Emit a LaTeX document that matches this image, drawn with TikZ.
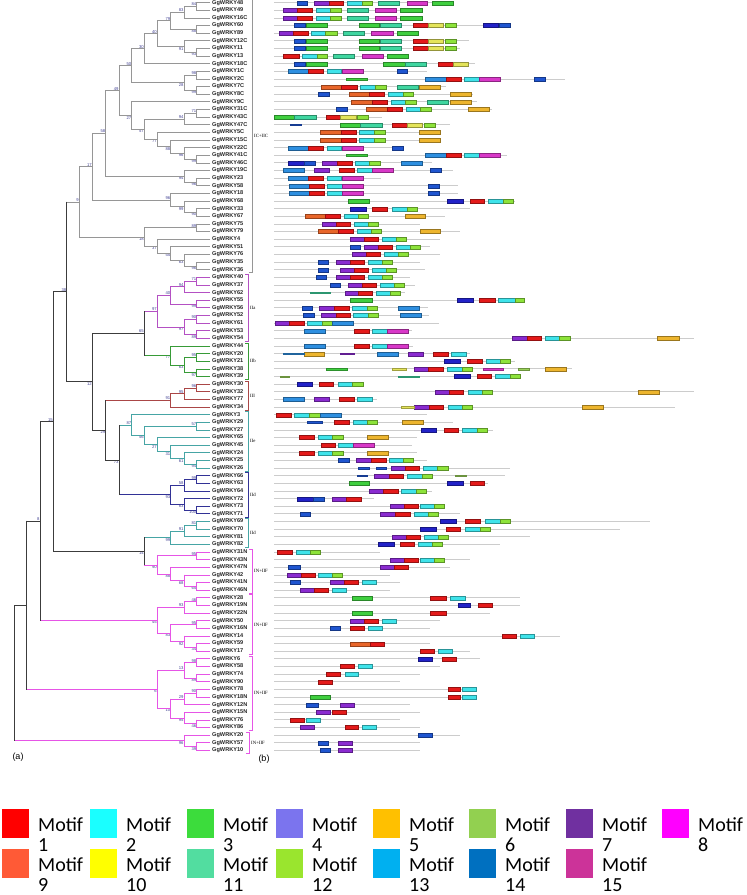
\documentclass[tikz,border=0pt]{standalone}
\usepackage{fontspec}
\setmainfont{Liberation Sans}
\newfontfamily\legfont{Carlito}
\newfontfamily\serfont{Liberation Serif}
\usetikzlibrary{calc}
% tree colours
\definecolor{gr}{RGB}{150,150,150}
\definecolor{bk}{RGB}{60,60,60}
\definecolor{pu}{RGB}{180,80,195}
\definecolor{gn}{RGB}{55,155,55}
\definecolor{brn}{RGB}{170,70,70}
\definecolor{tl}{RGB}{70,165,165}
\definecolor{nv}{RGB}{50,50,150}
\definecolor{pk}{RGB}{230,85,230}
\definecolor{bsc}{RGB}{70,70,150}
% motif box colours
\definecolor{q1}{HTML}{E41A1A}
\definecolor{q2}{HTML}{3FE3EA}
\definecolor{q3}{HTML}{3FCF3F}
\definecolor{q4}{HTML}{2222C8}
\definecolor{q5}{HTML}{EDB52E}
\definecolor{q6}{HTML}{9AD25A}
\definecolor{q7}{HTML}{8A2BD0}
\definecolor{q9}{HTML}{E8662A}
\definecolor{q10}{HTML}{E4E45A}
\definecolor{q11}{HTML}{3FD6A0}
\definecolor{q12}{HTML}{8DE33A}
\definecolor{q13}{HTML}{2E8FE0}
\definecolor{q14}{HTML}{1F55D0}
\definecolor{q15}{HTML}{D838C8}
% legend colours
\definecolor{lg1}{HTML}{FF0000}
\definecolor{lg2}{HTML}{1AFFFF}
\definecolor{lg3}{HTML}{3CDC3C}
\definecolor{lg4}{HTML}{7B74EE}
\definecolor{lg5}{HTML}{FFC000}
\definecolor{lg6}{HTML}{92D050}
\definecolor{lg7}{HTML}{7030A0}
\definecolor{lg8}{HTML}{FF00FF}
\definecolor{lg9}{HTML}{FF5A36}
\definecolor{lg10}{HTML}{FFFF00}
\definecolor{lg11}{HTML}{52DDA0}
\definecolor{lg12}{HTML}{9AE52E}
\definecolor{lg13}{HTML}{00B0F0}
\definecolor{lg14}{HTML}{0070C0}
\definecolor{lg15}{HTML}{CC3399}

\newcommand\lf[3]{%
  \coordinate (L#1) at (210,{2.7+(#1-1)*7.63});
  \node[lab] (T#1) at (212,{2.7+(#1-1)*7.63}) {#2};
  \expandafter\xdef\csname col@L#1\endcsname{#3}}
\newcommand\cl[7]{%
  \path (#3) -- (#4) coordinate[pos=.5] (#1m);
  \coordinate (#1) at (#2,0 |- #1m);
  \expandafter\xdef\csname col@#1\endcsname{#5}%
  \edef\cA{\csname col@#3\endcsname}%
  \edef\cB{\csname col@#4\endcsname}%
  \draw[brl,draw=\cA] (#1 |- #3) -- (#3);
  \draw[brl,draw=\cB] (#1 |- #4) -- (#4);
  \draw[brl,draw=#5] (#1 |- #3) -- (#1 |- #4);
  \node[bs#7] at (#1) {#6};}
\newcommand\brk[5]{%
  \draw[#4,line width=.7pt] ({#3-3},{2.7+(#1-1)*7.63-3}) -- (#3,{2.7+(#1-1)*7.63-3})
     -- (#3,{2.7+(#2-1)*7.63+3}) -- ({#3-3},{2.7+(#2-1)*7.63+3});
  \node[grp] at ({#3+2},{2.7+((#1+#2)/2-1)*7.63}) {#5};}
\newcommand\mrow[3]{%
  \draw[mline] (274,{2.7+(#1-1)*7.63}) -- (#2,{2.7+(#1-1)*7.63});
  \foreach \xa/\xb/\cc in {#3}{%
    \filldraw[fill=\cc,draw=\cc!65!black,line width=.25pt]
      (\xa,{2.7+(#1-1)*7.63-2}) rectangle (\xb,{2.7+(#1-1)*7.63+2});}}
\newcommand\mthin[4]{%
  \filldraw[fill=#4,draw=#4!70!black,line width=.2pt]
    (#2,{2.7+(#1-1)*7.63-.8}) rectangle (#3,{2.7+(#1-1)*7.63+.8});}

\begin{document}
\begin{tikzpicture}[x=1pt,y=-1pt,
  brl/.style={line width=.85pt,line cap=rect},
  lab/.style={anchor=west,inner sep=0,font=\fontsize{5.6}{6}\selectfont\bfseries,text=black!85},
  bsn/.style={inner sep=.3pt,font=\fontsize{4.2}{4.5}\selectfont,text=bsc},
  bsa/.style={bsn,anchor=south east},
  bsb/.style={bsn,anchor=north east},
  grp/.style={anchor=west,inner sep=0,font=\serfont\fontsize{4.8}{5}\selectfont},
  mline/.style={draw=black!20,line width=.9pt},
  legt/.style={anchor=base west,inner sep=0,font=\legfont\fontsize{20}{20}\selectfont}]
\useasboundingbox[fill=white] (0,0) rectangle (747,895);

% ---------------- leaves
\foreach \i/\t/\c in {1/GgWRKY48/gr,2/GgWRKY49/gr,3/GgWRKY16C/gr,4/GgWRKY60/gr,5/GgWRKY89/gr,
 6/GgWRKY12C/gr,7/GgWRKY11/gr,8/GgWRKY13/gr,9/GgWRKY18C/gr,10/GgWRKY1C/gr,11/GgWRKY2C/gr,
 12/GgWRKY7C/gr,13/GgWRKY8C/gr,14/GgWRKY9C/gr,15/GgWRKY31C/gr,16/GgWRKY43C/gr,17/GgWRKY47C/gr,
 18/GgWRKY5C/gr,19/GgWRKY15C/gr,20/GgWRKY22C/gr,21/GgWRKY41C/gr,22/GgWRKY46C/gr,23/GgWRKY19C/gr,
 24/GgWRKY23/gr,25/GgWRKY58/gr,26/GgWRKY18/gr,27/GgWRKY68/gr,28/GgWRKY33/gr,29/GgWRKY67/gr,
 30/GgWRKY75/gr,31/GgWRKY79/gr,32/GgWRKY4/gr,33/GgWRKY51/gr,34/GgWRKY76/gr,35/GgWRKY35/gr,
 36/GgWRKY36/gr,37/GgWRKY40/pu,38/GgWRKY37/pu,39/GgWRKY62/pu,40/GgWRKY55/pu,41/GgWRKY56/pu,
 42/GgWRKY52/pu,43/GgWRKY61/pu,44/GgWRKY53/pu,45/GgWRKY54/pu,46/GgWRKY44/gn,47/GgWRKY20/gn,
 48/GgWRKY21/gn,49/GgWRKY38/gn,50/GgWRKY39/gn,51/GgWRKY30/brn,52/GgWRKY32/brn,53/GgWRKY77/brn,
 54/GgWRKY34/brn,55/GgWRKY3/tl,56/GgWRKY29/tl,57/GgWRKY27/tl,58/GgWRKY65/tl,59/GgWRKY45/tl,
 60/GgWRKY24/tl,61/GgWRKY25/tl,62/GgWRKY26/tl,63/GgWRKY66/nv,64/GgWRKY63/nv,65/GgWRKY64/nv,
 66/GgWRKY72/nv,67/GgWRKY73/nv,68/GgWRKY71/nv,69/GgWRKY69/tl,70/GgWRKY70/tl,71/GgWRKY81/tl,
 72/GgWRKY82/tl,73/GgWRKY31N/pk,74/GgWRKY43N/pk,75/GgWRKY47N/pk,76/GgWRKY42/pk,77/GgWRKY41N/pk,
 78/GgWRKY46N/pk,79/GgWRKY28/pk,80/GgWRKY19N/pk,81/GgWRKY22N/pk,82/GgWRKY50/pk,83/GgWRKY16N/pk,
 84/GgWRKY14/pk,85/GgWRKY59/pk,86/GgWRKY17/pk,87/GgWRKY6/pk,88/GgWRKY58/pk,89/GgWRKY74/pk,
 90/GgWRKY90/pk,91/GgWRKY78/pk,92/GgWRKY18N/pk,93/GgWRKY12N/pk,94/GgWRKY15N/pk,95/GgWRKY76/pk,
 96/GgWRKY86/pk,97/GgWRKY20/pk,98/GgWRKY57/pk,99/GgWRKY10/pk}{\lf{\i}{\t}{\c}}

% ---------------- tree: IC+IIC
\cl{nA}{196.7}{L1}{L2}{gr}{84}{a}
\cl{nB}{184}{nA}{L3}{gr}{83}{a}
\cl{nC}{196.7}{L4}{L5}{gr}{88}{b}
\cl{nD}{170.7}{nB}{nC}{gr}{79}{a}
\cl{nE}{196.7}{L7}{L8}{gr}{93}{b}
\cl{nF}{184}{L6}{nE}{gr}{91}{b}
\cl{nG}{157.3}{nD}{nF}{gr}{40}{a}
\cl{nH}{144.3}{nG}{L9}{gr}{30}{a}
\cl{nI}{196.7}{L10}{L11}{gr}{98}{a}
\cl{nJ}{196.7}{L12}{L13}{gr}{99}{b}
\cl{nK}{184}{nI}{nJ}{gr}{28}{b}
\cl{nL}{131.7}{nH}{nK}{gr}{50}{a}
\cl{nM}{196.7}{L15}{L16}{gr}{71}{a}
\cl{nN}{184}{nM}{L17}{gr}{94}{a}
\cl{nO}{196.7}{L21}{L22}{gr}{99}{b}
\cl{nP}{184}{L20}{nO}{gr}{96}{b}
\cl{nQ}{170.7}{L19}{nP}{gr}{88}{b}
\cl{nR}{157.3}{L18}{nQ}{gr}{77}{b}
\cl{nS}{144.3}{nN}{nR}{gr}{57}{b}
\cl{nT}{131.7}{L14}{nS}{gr}{27}{b}
\cl{nU}{119}{nL}{nT}{gr}{49}{a}
\cl{nV}{196.7}{L24}{L25}{gr}{96}{b}
\cl{nW}{184}{L23}{nV}{gr}{94}{b}
\cl{nX}{105.7}{nU}{nW}{gr}{58}{a}
\cl{nY}{196.7}{L28}{L29}{gr}{90}{b}
\cl{nZ}{184}{L27}{nY}{gr}{99}{b}
\cl{nAA}{170.7}{L26}{nZ}{gr}{96}{a}
\cl{nAB}{92.3}{nX}{nAA}{gr}{17}{a}
\cl{nAC}{196.7}{L30}{L31}{gr}{89}{a}
\cl{nAD}{196.7}{L35}{L36}{gr}{96}{b}
\cl{nAE}{184}{L34}{nAD}{gr}{63}{b}
\cl{nAF}{170.7}{L33}{nAE}{gr}{55}{b}
\cl{nAG}{157.3}{L32}{nAF}{gr}{37}{b}
\cl{nAH}{144.3}{nAC}{nAG}{gr}{18}{b}
\cl{nAI}{79.3}{nAB}{nAH}{gr}{9}{a}
% IIa
\cl{a1}{196.7}{L37}{L38}{pu}{71}{a}
\cl{a2}{184}{a1}{L39}{pu}{94}{a}
\cl{a3}{196.7}{L40}{L41}{pu}{99}{b}
\cl{a4}{170.7}{a2}{a3}{pu}{40}{a}
\cl{a5}{196.7}{L42}{L43}{pu}{90}{a}
\cl{a6}{196.7}{L44}{L45}{pu}{89}{b}
\cl{a7}{184}{a5}{a6}{pu}{97}{b}
\cl{a8}{157.3}{a4}{a7}{pu}{97}{a}
% IIb
\cl{b1}{196.7}{L47}{L48}{gn}{95}{a}
\cl{b2}{196.7}{L49}{L50}{gn}{97}{b}
\cl{b3}{184}{b1}{b2}{gn}{63}{b}
\cl{b4}{170.7}{L46}{b3}{gn}{77}{b}
\cl{nAL}{144.3}{a8}{b4}{bk}{65}{a}
% III
\cl{c1}{196.7}{L51}{L52}{brn}{96}{a}
\cl{c2}{184}{c1}{L53}{brn}{95}{a}
\cl{c3}{170.7}{c2}{L54}{brn}{91}{a}
% IIe
\cl{e1}{196.7}{L56}{L57}{tl}{57}{a}
\cl{e2}{196.7}{L61}{L62}{tl}{94}{b}
\cl{e3}{184}{L60}{e2}{tl}{61}{b}
\cl{e4}{170.7}{L59}{e3}{tl}{31}{b}
\cl{e5}{157.3}{L58}{e4}{tl}{27}{b}
\cl{e6}{144.3}{e1}{e5}{tl}{56}{b}
\cl{e7}{131.7}{L55}{e6}{tl}{87}{a}
% IId
\cl{d1}{196.7}{L63}{L64}{nv}{99}{a}
\cl{d2}{184}{d1}{L65}{nv}{58}{a}
\cl{d3}{196.7}{L67}{L68}{nv}{100}{b}
\cl{d4}{184}{L66}{d3}{nv}{63}{b}
\cl{d5}{170.7}{d2}{d4}{nv}{93}{b}
\cl{nAN}{119}{e7}{d5}{bk}{73}{b}
\cl{nAM}{105.7}{c3}{nAN}{bk}{29}{b}
\cl{nAK}{92.3}{nAL}{nAM}{bk}{12}{b}
\cl{nAJ}{66.7}{nAI}{nAK}{bk}{38}{a}
% IId (2)
\cl{f1}{196.7}{L69}{L70}{tl}{81}{a}
\cl{f2}{184}{f1}{L71}{tl}{91}{a}
\cl{f3}{170.7}{f2}{L72}{tl}{99}{b}
% IN+IIF (1)
\cl{g1}{196.7}{L73}{L74}{pk}{95}{a}
\cl{g2}{196.7}{L77}{L78}{pk}{65}{b}
\cl{g3}{184}{L76}{g2}{pk}{68}{b}
\cl{g4}{170.7}{L75}{g3}{pk}{88}{b}
\cl{g5}{157.3}{g1}{g4}{pk}{90}{b}
\cl{nAP}{144.3}{f3}{g5}{bk}{14}{b}
\cl{nAO}{53.3}{nAJ}{nAP}{bk}{15}{a}
% IN+IIF (2)
\cl{h1}{196.7}{L79}{L80}{pk}{46}{a}
\cl{h2}{184}{h1}{L81}{pk}{93}{a}
\cl{h3}{196.7}{L82}{L83}{pk}{95}{a}
\cl{h4}{196.7}{L85}{L86}{pk}{34}{b}
\cl{h5}{184}{L84}{h4}{pk}{92}{b}
\cl{h6}{170.7}{h3}{h5}{pk}{83}{b}
\cl{h7}{157.3}{h2}{h6}{pk}{45}{b}
\cl{nAQ}{40}{nAO}{h7}{bk}{8}{a}
% IN+IIF (3)
\cl{i1}{196.7}{L87}{L88}{pk}{98}{a}
\cl{i2}{196.7}{L89}{L90}{pk}{89}{b}
\cl{i3}{184}{i1}{i2}{pk}{13}{a}
\cl{i4}{196.7}{L91}{L92}{pk}{90}{a}
\cl{i5}{184}{i4}{L93}{pk}{29}{a}
\cl{i6}{196.7}{L95}{L96}{pk}{46}{b}
\cl{i7}{184}{L94}{i6}{pk}{95}{b}
\cl{i8}{170.7}{i5}{i7}{pk}{10}{b}
\cl{i9}{157.3}{i3}{i8}{pk}{6}{b}
\cl{nAR}{26.7}{nAQ}{i9}{bk}{}{a}
% IN+IIF (4)
\cl{j1}{196.7}{L98}{L99}{pk}{39}{b}
\cl{j2}{184}{L97}{j1}{pk}{96}{b}
\cl{nRoot}{14.3}{nAR}{j2}{bk}{}{a}

% ---------------- group brackets
\brk{1}{36}{252}{gr}{IC+IIC}
\brk{37}{45}{248}{pu}{IIa}
\brk{46}{50}{248}{gn}{IIb}
\brk{51}{54}{248}{brn}{III}
\brk{55}{62}{248}{tl}{IIe}
\brk{63}{68}{248}{nv}{IId}
\brk{69}{72}{248}{tl}{IId}
\brk{73}{78}{252}{pk}{IN+IIF}
\brk{79}{86}{252}{pk}{IN+IIF}
\brk{87}{96}{252}{pk}{IN+IIF}
\brk{97}{99}{249}{pk}{IN+IIF}

\node[font=\fontsize{9}{9}\selectfont,inner sep=0] (pa) at (18,757) {(a)};
\node[font=\fontsize{9}{9}\selectfont,inner sep=0] (pb) at (264,759) {(b)};

% ---------------- motifs
\mrow{1}{453}{297/307/q14,314/329/q7,329/343/q1,347/362/q2,362/372/q12,378/399/q11,407/427/q15,432/453/q3}
\mrow{2}{422}{283/297/q7,297/312/q1,316/330/q2,330/341/q12,347/368/q11,375/396/q15,400/422/q3}
\mrow{3}{422}{283/297/q7,297/312/q1,316/330/q2,330/341/q12,347/368/q11,375/396/q15,400/422/q3}
\mrow{4}{510}{294/305/q14,306/327/q3,359/379/q3,380/401/q11,413/428/q1,428/443/q10,445/456/q12,483/498/q4,499/510/q14}
\mrow{5}{418}{279/293/q7,293/308/q1,311/325/q2,325/337/q12,343/364/q11,371/393/q15,397/418/q3}
\mrow{6}{469}{294/305/q14,306/327/q3,359/379/q3,380/401/q11,413/428/q1,428/443/q10,445/456/q12}
\mrow{7}{460}{294/305/q14,306/327/q3,359/379/q3,380/401/q11,413/428/q1,428/443/q10,445/456/q12}
\mrow{8}{408}{283/299/q1,302/317/q2,317/327/q12,333/354/q11,362/383/q15,387/408/q3}
\mrow{9}{475}{294/305/q14,306/327/q3,383/405/q3,405/426/q11,438/453/q1,453/468/q10}
\mrow{10}{427}{288/308/q13,308/323/q1,327/341/q2,342/363/q15,397/407/q14}
\mrow{11}{565}{425/446/q13,446/461/q1,464/479/q2,479/500/q15,534/545/q14}
\mthin{11}{346}{367}{q3}
\mrow{12}{446}{321/341/q9,341/357/q1,360/375/q2,375/386/q12,397/418/q11,419/440/q5}
\mrow{13}{473}{318/329/q14,349/369/q9,369/384/q1,388/403/q2,403/413/q12,450/471/q5}
\mrow{14}{477}{351/372/q9,372/387/q1,391/405/q2,405/416/q12,427/448/q11,450/471/q5}
\mrow{15}{492}{336/347/q14,366/387/q9,387/402/q1,406/420/q2,420/431/q12,468/489/q5}
\mrow{16}{382}{274/294/q3,294/316/q11,326/340/q1,340/356/q10,357/368/q12}
\mrow{17}{450}{340/360/q3,360/382/q11,392/407/q1,407/422/q10,424/435/q12}
\mthin{17}{290}{301}{q14}
\mrow{18}{440}{320/341/q9,341/356/q1,359/374/q2,374/385/q12,419/440/q5}
\mrow{19}{440}{320/341/q9,341/356/q1,359/374/q2,374/385/q12,419/440/q5}
\mrow{20}{403}{288/308/q13,308/323/q1,327/341/q2,342/363/q15,392/403/q14}
\mrow{21}{507}{425/446/q13,446/461/q1,464/479/q2,479/500/q15}
\mthin{21}{346}{367}{q3}
\mrow{22}{432}{288/304/q4,304/315/q14,322/337/q7,337/352/q1,355/369/q2,369/380/q12,401/422/q13}
\mrow{23}{453}{283/304/q13,314/329/q7,339/354/q1,357/372/q2,372/393/q15,430/441/q14}
\mrow{24}{381}{288/308/q13,308/323/q1,327/341/q2,342/363/q15}
\mrow{25}{458}{289/309/q13,309/324/q1,327/342/q2,342/363/q15,428/439/q14}
\mrow{26}{458}{289/309/q13,309/324/q1,327/342/q2,342/363/q15,428/439/q14}
\mrow{27}{515}{348/369/q3,447/463/q4,470/484/q1,488/503/q2,503/513/q12}
\mrow{28}{470}{350/366/q4,372/387/q1,392/407/q2,407/417/q12}
\mrow{29}{445}{305/325/q9,325/340/q1,344/358/q2,358/368/q12,405/425/q5}
\mrow{30}{420}{322/336/q7,336/350/q1,354/368/q2,368/378/q12}
\mrow{31}{460}{318/338/q9,338/353/q1,357/371/q2,371/381/q12,420/440/q5}
\mrow{32}{440}{350/364/q7,364/378/q1,382/396/q2,396/406/q12}
\mrow{33}{430}{350/360/q14,364/378/q7,378/392/q1,396/410/q2,410/420/q12}
\mrow{34}{440}{352/366/q7,366/380/q1,384/398/q2,398/408/q12}
\mrow{35}{420}{318/328/q14,336/350/q7,350/364/q1,368/382/q2,382/392/q12}
\mrow{36}{425}{318/328/q14,340/354/q7,354/368/q1,372/386/q2,386/396/q12}
\mrow{37}{410}{316/326/q14,336/350/q7,350/364/q1,368/382/q2,382/392/q12}
\mrow{38}{415}{330/340/q14,348/362/q7,362/376/q1,380/394/q2,394/404/q12}
\mrow{39}{405}{345/358/q7,358/372/q1,376/390/q2,390/400/q12}
\mthin{39}{310}{330}{q11}
\mrow{40}{524}{350/372/q3,457/473/q4,479/495/q1,498/515/q2,515/524/q12}
\mrow{41}{428}{302/312/q14,319/334/q7,334/349/q1,352/367/q2,367/377/q12,398/419/q13}
\mrow{42}{429}{303/314/q14,321/336/q7,336/350/q1,353/368/q2,368/378/q12,400/421/q13}
\mrow{43}{439}{275/289/q7,289/304/q1,307/322/q2,322/332/q12,332/353/q13}
\mrow{44}{412}{304/325/q13,354/369/q1,372/387/q2,387/408/q15}
\mrow{45}{694}{512/527/q7,527/541/q1,545/559/q2,559/570/q12,657/679/q5}
\mrow{46}{413}{304/325/q13,354/369/q1,372/387/q2,387/408/q15}
\mrow{47}{470}{304/324/q5,377/398/q13,408/423/q7,433/448/q1,451/466/q2}
\mthin{47}{283}{304}{q13}
\mthin{47}{340}{354}{q7}
\mrow{48}{515}{444/460/q4,467/482/q1,486/500/q2,500/510/q12}
\mrow{49}{572}{414/428/q7,428/443/q1,447/462/q2,462/472/q12,545/566/q5}
\mthin{49}{326}{347}{q3}
\mthin{49}{392}{406}{q10}
\mthin{49}{483}{503}{q15}
\mthin{49}{518}{529}{q6}
\mrow{50}{520}{454/470/q4,477/491/q1,495/510/q2,510/520/q12}
\mthin{50}{280}{289}{q6}
\mthin{50}{398}{419}{q11}
\mrow{51}{363}{297/312/q4,319/333/q1,338/352/q2,352/363/q12}
\mrow{52}{694}{435/449/q7,449/463/q1,468/482/q2,482/492/q12,638/659/q5}
\mrow{53}{377}{283/304/q13,314/329/q7,339/354/q1,357/372/q2}
\mrow{54}{675}{414/429/q7,429/443/q1,448/462/q2,462/472/q12,582/603/q5}
\mthin{54}{401}{414}{q10}
\mrow{55}{427}{276/291/q1,294/309/q2,309/320/q12,320/341/q13}
\mrow{56}{453}{334/349/q1,353/367/q2,367/377/q12,402/423/q5}
\mthin{56}{307}{322}{q14}
\mrow{57}{493}{421/436/q4,444/458/q1,462/477/q2,477/487/q12}
\mrow{58}{417}{299/314/q1,318/332/q2,332/343/q12,367/388/q5}
\mrow{59}{412}{321/335/q1,338/353/q2,353/374/q15}
\mrow{60}{417}{299/314/q1,318/332/q2,332/343/q12,367/388/q5}
\mrow{61}{427}{338/349/q14,356/371/q7,371/386/q1,389/403/q2,403/413/q12}
\mrow{62}{510}{391/405/q7,405/419/q1,423/437/q2,437/448/q12}
\mthin{62}{358}{369}{q14}
\mthin{62}{376}{386}{q14}
\mrow{63}{505}{374/389/q7,389/403/q1,407/422/q2,422/432/q12}
\mthin{63}{357}{367}{q14}
\mthin{63}{455}{466}{q6}
\mrow{64}{488}{349/369/q3,447/463/q4,470/484/q1}
\mrow{65}{432}{369/383/q7,383/398/q1,401/416/q2,416/426/q12}
\mrow{66}{374}{297/313/q4,313/324/q14,332/346/q7,346/361/q1}
\mrow{67}{445}{390/404/q7,404/418/q1,420/434/q2,434/444/q12}
\mrow{68}{460}{300/310/q14,380/395/q7,395/410/q1,414/428/q2,428/438/q12}
\mrow{69}{650}{440/456/q4,465/480/q1,485/500/q2,500/510/q12}
\mrow{70}{620}{420/436/q4,446/460/q1,465/480/q2,480/490/q12}
\mrow{71}{530}{392/406/q7,406/420/q1,424/438/q2,438/448/q12}
\mrow{72}{500}{378/394/q4,400/414/q1,418/432/q2,432/442/q12}
\mrow{73}{380}{277/292/q1,296/310/q2,310/320/q12}
\mrow{74}{470}{390/404/q7,404/418/q1,420/434/q2,434/444/q12}
\mrow{75}{450}{288/300/q14,380/394/q7,394/408/q1}
\mrow{76}{390}{287/301/q7,301/315/q1,318/332/q2,332/342/q12}
\mrow{77}{400}{290/300/q14,330/344/q7,344/358/q1,362/376/q2}
\mrow{78}{390}{300/314/q7,314/328/q1,332/346/q2}
\mrow{79}{520}{352/372/q3,430/446/q1,450/465/q2}
\mrow{80}{520}{458/470/q4,478/492/q1}
\mrow{81}{490}{352/372/q3,430/446/q1}
\mrow{82}{440}{350/364/q7,364/378/q1,382/396/q2}
\mrow{83}{430}{330/340/q14,350/364/q1,368/382/q2}
\mrow{84}{560}{502/516/q1,520/534/q2}
\mrow{85}{430}{350/370/q9,370/384/q1}
\mrow{86}{470}{420/434/q1,438/452/q2}
\mrow{87}{480}{418/432/q4,442/456/q1}
\mrow{88}{440}{340/354/q1,358/372/q2}
\mrow{89}{420}{326/340/q1,345/358/q2}
\mrow{90}{400}{318/332/q1}
\mrow{91}{470}{448/460/q1,462/476/q2}
\mrow{92}{470}{310/330/q3,448/460/q1,462/476/q2}
\mrow{93}{410}{306/318/q14,340/354/q7}
\mrow{94}{420}{316/330/q7,332/346/q1}
\mrow{95}{400}{290/304/q1,306/320/q2}
\mrow{96}{420}{300/314/q7,345/358/q1,362/376/q2}
\mrow{97}{460}{418/432/q14}
\mrow{98}{420}{318/328/q14,338/352/q7}
\mrow{99}{420}{320/330/q14,338/352/q7}

% ---------------- legend
\foreach \n/\x/\yy in {1/2/0,2/90/0,3/187/0,4/276/0,5/373/0,6/469/0,7/566/0,8/662/0,
   9/2/40,10/90/40,11/187/40,12/276/40,13/373/40,14/469/40,15/566/40}{
  \fill[lg\n] (\x,{809+\yy}) rectangle ({\x+27},{838+\yy});
  \node[legt] (mt\n) at ({\x+36},{831+\yy}) {Motif};
  \node[legt] (mn\n) at ({\x+36},{851+\yy}) {\n};
}
\end{tikzpicture}
\end{document}
